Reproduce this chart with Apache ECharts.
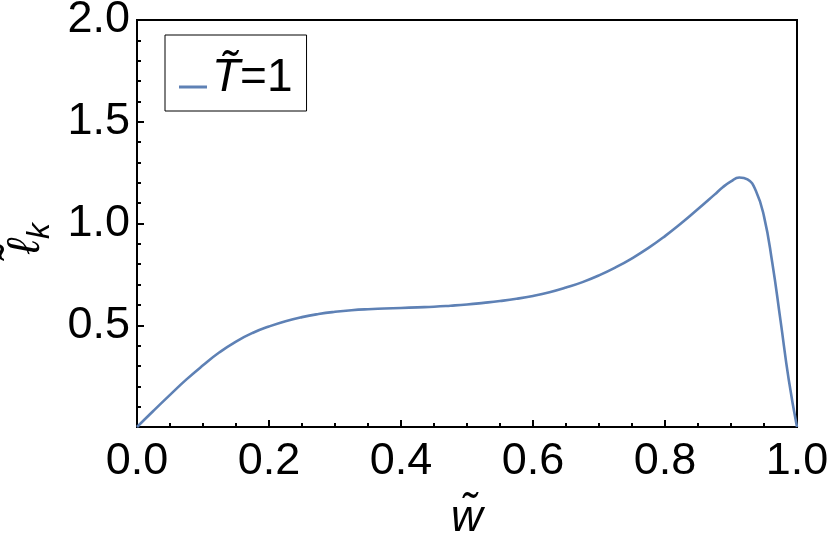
<!DOCTYPE html>
<html>
<head>
<meta charset="utf-8">
<script src="https://cdn.jsdelivr.net/npm/echarts@6/dist/echarts.min.js"></script>
<style>
  html, body { margin: 0; padding: 0; background: #fff; }
  #chart { width: 830px; height: 541px; }
</style>
</head>
<body>
<div id="chart"></div>
<script>
// curve: w~ vs l~_k
const wValues = [0, 0.025, 0.05, 0.075, 0.1, 0.125, 0.15, 0.175, 0.2, 0.225, 0.25, 0.275,
  0.3, 0.325, 0.35, 0.375, 0.4, 0.425, 0.45, 0.475, 0.5, 0.525, 0.55, 0.575,
  0.6, 0.625, 0.65, 0.675, 0.7, 0.725, 0.75, 0.775, 0.8, 0.825, 0.85, 0.875,
  0.8875, 0.9, 0.9125, 0.925, 0.9375, 0.95, 0.9625, 0.975, 0.9875, 1.0];
const ellValues = [0, 0.08, 0.158, 0.234, 0.303, 0.367, 0.42, 0.462, 0.494, 0.52, 0.54, 0.555,
  0.566, 0.574, 0.579, 0.582, 0.585, 0.588, 0.591, 0.596, 0.602, 0.61, 0.619, 0.63,
  0.644, 0.662, 0.685, 0.712, 0.745, 0.784, 0.829, 0.88, 0.938, 1.002, 1.071, 1.142,
  1.178, 1.207, 1.226, 1.217, 1.162, 1.035, 0.808, 0.524, 0.232, 0];

const seriesName = 'T\u0303=1';
const xRange = [0, 1];
const yRange = [0, 2];
const xStep = 0.2;
const yStep = 0.5;

const font = 'Liberation Sans';
const lineColor = '#5e81b5';

const points = wValues.map((w, i) => [w, ellValues[i]]);

const chart = echarts.init(document.getElementById('chart'));

chart.setOption({
  animation: false,
  backgroundColor: '#fff',
  grid: {
    left: 137, right: 33, top: 20, bottom: 114,
    show: true,
    borderColor: '#000',
    borderWidth: 2,
    outerBoundsMode: 'none'
  },
  legend: {
    left: 165,
    top: 35,
    padding: [20, 14, 0, 14],
    borderColor: '#000',
    borderWidth: 1,
    backgroundColor: '#fff',
    itemWidth: 28,
    itemHeight: 3,
    icon: 'rect',
    data: [seriesName],
    formatter: () => '{t|T\u0303}{n|=1}',
    textStyle: {
      color: '#000',
      fontFamily: font,
      fontSize: 46,
      lineHeight: 30,
      padding: [0, 0, 18, 0],
      rich: {
        t: { fontFamily: font, fontSize: 46, lineHeight: 30, fontStyle: 'italic', color: '#000' },
        n: { fontFamily: font, fontSize: 46, lineHeight: 30, color: '#000' }
      }
    }
  },
  xAxis: {
    type: 'value',
    min: xRange[0],
    max: xRange[1],
    interval: xStep,
    name: 'w\u0303',
    nameLocation: 'middle',
    nameGap: 70,
    nameTextStyle: { fontFamily: font, fontSize: 44, fontStyle: 'italic', color: '#000' },
    axisLine: { show: true, lineStyle: { color: '#000', width: 2 } },
    axisTick: { show: true, inside: true, length: 7, lineStyle: { color: '#000', width: 2 } },
    minorTick: { show: true, splitNumber: 4, length: 4, lineStyle: { color: '#000', width: 2 } },
    splitLine: { show: false },
    axisLabel: {
      margin: 12,
      fontFamily: font,
      fontSize: 45,
      color: '#000',
      formatter: v => v.toFixed(1)
    }
  },
  yAxis: {
    type: 'value',
    min: yRange[0],
    max: yRange[1],
    interval: yStep,
    name: '{a|\u2113\u0303}{b|k}',
    nameLocation: 'middle',
    nameGap: 77,
    nameRotate: 90,
    nameTextStyle: {
      color: '#000',
      rich: {
        a: { fontFamily: font, fontSize: 46, fontStyle: 'italic', color: '#000', verticalAlign: 'middle' },
        b: { fontFamily: font, fontSize: 32, fontStyle: 'italic', color: '#000',
             verticalAlign: 'top', padding: [28, 30, 0, 0] }
      }
    },
    axisLine: { show: true, lineStyle: { color: '#000', width: 2 } },
    axisTick: { show: true, inside: true, length: 7, lineStyle: { color: '#000', width: 2 } },
    minorTick: { show: true, splitNumber: 5, length: 4, lineStyle: { color: '#000', width: 2 } },
    splitLine: { show: false },
    axisLabel: {
      margin: 7,
      fontFamily: font,
      fontSize: 45,
      color: '#000',
      formatter: v => (v === 0 ? '' : v.toFixed(1))
    }
  },
  series: [{
    name: seriesName,
    type: 'line',
    data: points,
    smooth: 0.5,
    showSymbol: false,
    lineStyle: { color: lineColor, width: 2.6 },
    itemStyle: { color: lineColor }
  }]
});
</script>
</body>
</html>
